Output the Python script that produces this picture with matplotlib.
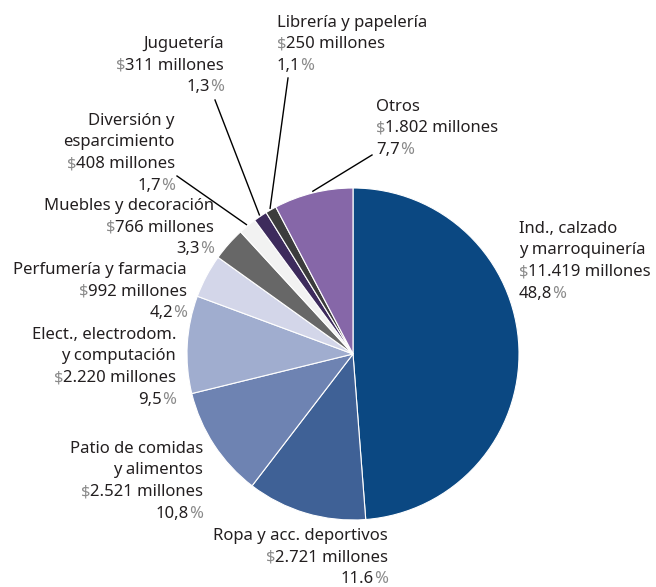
import numpy as np
import matplotlib
matplotlib.use("Agg")
import matplotlib.pyplot as plt

# Ventas por rubro (millones de pesos)
rubros = ["Ind., calzado\ny marroquinería", "Ropa y acc. deportivos",
          "Patio de comidas\ny alimentos", "Elect., electrodom.\ny computación",
          "Perfumería y farmacia", "Muebles y decoración",
          "Diversión y\nesparcimiento", "Juguetería", "Librería y papelería", "Otros"]
ventas = [11419, 2721, 2521, 2220, 992, 766, 408, 311, 250, 1802]
montos = ["11.419 millones", "2.721 millones", "2.521 millones", "2.220 millones",
          "992 millones", "766 millones", "408 millones", "311 millones",
          "250 millones", "1.802 millones"]
porcentajes = ["48,8", "11.6", "10,8", "9,5", "4,2", "3,3", "1,7", "1,3", "1,1", "7,7"]
colores = ["#0b4882", "#3f6196", "#6e83b2", "#a0adcf", "#d3d6e9", "#676767",
           "#f2f2f2", "#3d2b5c", "#3c3c3c", "#8667a8"]

W, H = 656, 587
fig = plt.figure(figsize=(W / 100, H / 100), dpi=100)
ax = fig.add_axes([0, 0, 1, 1])

cx, cy, r = 353, H - 354, 166
wedges, _ = ax.pie(ventas, colors=colores, startangle=90, counterclock=False,
                   center=(cx, cy), radius=r, frame=True,
                   wedgeprops=dict(edgecolor="white", linewidth=0.8))
ax.set_xlim(0, W)
ax.set_ylim(0, H)
ax.set_aspect("equal")
ax.axis("off")

renderer = fig.canvas.get_renderer()
fam = ["Noto Sans", "DejaVu Sans"]
fs = 12
dark, light = "#231f20", "#8a8a8a"


def put(x, y, txt, ha, color):
    t = ax.text(x, y, txt, ha=ha, va="center", fontsize=fs, color=color, family=fam)
    return t.get_window_extent(renderer).width


def two_part(x, y, first, second, ha, c1, c2):
    # draw "first" + "second" as one line with two colours
    if ha == "left":
        w = put(x, y, first, "left", c1)
        put(x + w, y, second, "left", c2)
    else:
        w = put(x, y, second, "right", c2)
        put(x - w, y, first, "right", c1)


# label anchor (pixels from top-left), alignment, and leader line start
labels_pos = {
    0: (519, 229, "left", None),
    1: (388, 536, "right", None),
    2: (203, 449, "right", None),
    3: (176, 335, "right", None),
    4: (187, 270, "right", None),
    5: (214, 206, "right", None),
    6: (175, 121, "right", (177, 176)),
    7: (224, 44, "right", (215, 100)),
    8: (277, 23, "left", (288, 78)),
    9: (376, 107, "left", (372, 155)),
}
step = 21.5
for i, (x, y, ha, start) in labels_pos.items():
    lineas = rubros[i].split("\n")
    for k, txt in enumerate(lineas):
        put(x, H - (y + k * step), txt, ha, dark)
    k = len(lineas)
    two_part(x, H - (y + k * step), "$", montos[i], ha, light, dark)
    two_part(x, H - (y + (k + 1) * step), porcentajes[i], "%", ha, dark, light)
    if start is not None:
        w = wedges[i]
        mid = np.deg2rad((w.theta1 + w.theta2) / 2)
        ex, ey = cx + r * 1.01 * np.cos(mid), cy + r * 1.01 * np.sin(mid)
        ax.plot([start[0], ex], [H - start[1], ey], color="black", lw=1)

fig.savefig("out.png", dpi=100)
